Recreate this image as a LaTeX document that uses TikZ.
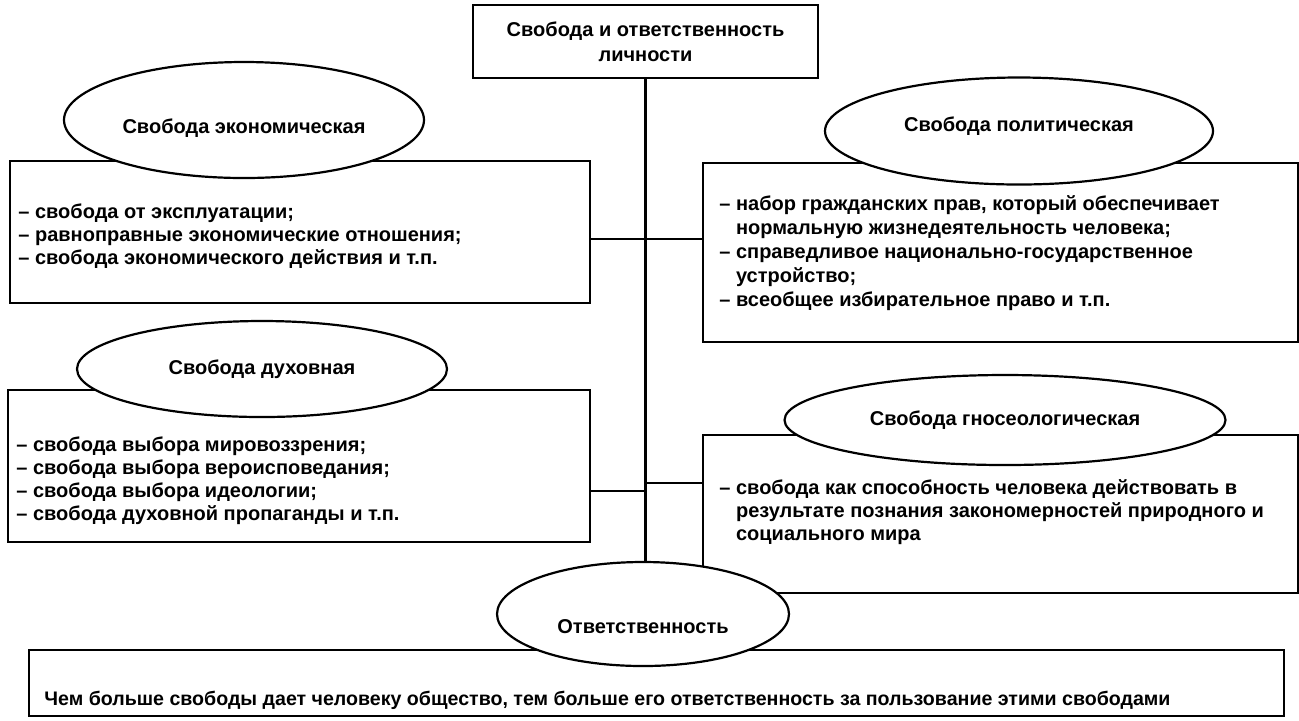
\documentclass[tikz,border=0pt]{standalone}
\usepackage{fontspec}
\setmainfont{Liberation Sans}
\usetikzlibrary{shapes.geometric}
\newcommand\myshift[2]{\raisebox{\dimexpr#1-3.6pt\relax}[0pt][0pt]{#2}}
\begin{document}
\begin{tikzpicture}[x=0.5pt,y=-0.5pt,
  box/.style={draw, line width=1.1pt, inner sep=0pt},
  oval/.style={draw, ellipse, fill=white, line width=1.1pt, inner sep=0pt, font=\bfseries\fontsize{10}{12}\selectfont},
  txt/.style={align=left, anchor=west, inner sep=0pt},
  conn/.style={line width=1.1pt}]
\useasboundingbox (0,0) rectangle (1299,720);
% boxes
\node[box, minimum width=172.5pt, minimum height=36.5pt, align=center, font=\bfseries\fontsize{10}{12.5}\selectfont] (top) at (645.5,41.5) {Свобода и ответственность\\личности};
\node[box, minimum width=290pt, minimum height=71pt] (lb1) at (300,232) {};
\node[box, minimum width=297.5pt, minimum height=89.5pt] (rb1) at (1000.5,252.5) {};
\node[box, minimum width=291pt, minimum height=76pt] (lb2) at (299,466) {};
\node[box, minimum width=297.5pt, minimum height=79pt] (rb2) at (1000.5,514) {};
\node[box, minimum width=627.5pt, minimum height=33pt] (bot) at (656.5,683) {};
% ellipses
\node[oval, minimum width=180pt, minimum height=58pt] (econ) at (244,120) {\myshift{-3pt}{Свобода экономическая}};
\node[oval, minimum width=194pt, minimum height=53.5pt] (pol) at (1019,131) {\myshift{3.5pt}{Свобода политическая}};
\node[oval, minimum width=185pt, minimum height=48pt] (spir) at (262,369) {Свобода духовная};
\node[oval, minimum width=220.5pt, minimum height=45pt] (gno) at (1005,420) {Свобода гносеологическая};
\node[oval, minimum width=146pt, minimum height=52pt] (resp) at (643,614) {\myshift{-6pt}{Ответственность}};
% texts
\node[txt, font=\bfseries\fontsize{10}{11.5}\selectfont] (t1) at (18,236) {– свобода от эксплуатации;\\– равноправные экономические отношения;\\– свобода экономического действия и т.п.};
\node[txt, font=\bfseries\fontsize{10}{12}\selectfont] (t2) at (719,253) {– набор гражданских прав, который обеспечивает\\\phantom{– }нормальную жизнедеятельность человека;\\– справедливое национально-государственное\\\phantom{– }устройство;\\– всеобщее избирательное право и т.п.};
\node[txt, font=\bfseries\fontsize{10}{11.5}\selectfont] (t3) at (16,481) {– свобода выбора мировоззрения;\\– свобода выбора вероисповедания;\\– свобода выбора идеологии;\\– свобода духовной пропаганды и т.п.};
\node[txt, font=\bfseries\fontsize{10}{11.5}\selectfont] (t4) at (719,512) {– свобода как способность человека действовать в\\\phantom{– }результате познания закономерностей природного и\\\phantom{– }социального мира};
\node[txt, font=\bfseries\fontsize{9.8}{12}\selectfont] (t5) at (44,700) {Чем больше свободы дает человеку общество, тем больше его ответственность за пользование этими свободами};
% connectors
\coordinate (j1) at (645.5,239);
\coordinate (j2) at (645.5,491);
\coordinate (j3) at (645.5,483);
\draw[conn] (top.south) -- (resp.north -| top.south);
\draw[conn] (lb1.east |- j1) -- (rb1.west |- j1);
\draw[conn] (lb2.east |- j2) -- (j2);
\draw[conn] (j3) -- (rb2.west |- j3);
\end{tikzpicture}
\end{document}
